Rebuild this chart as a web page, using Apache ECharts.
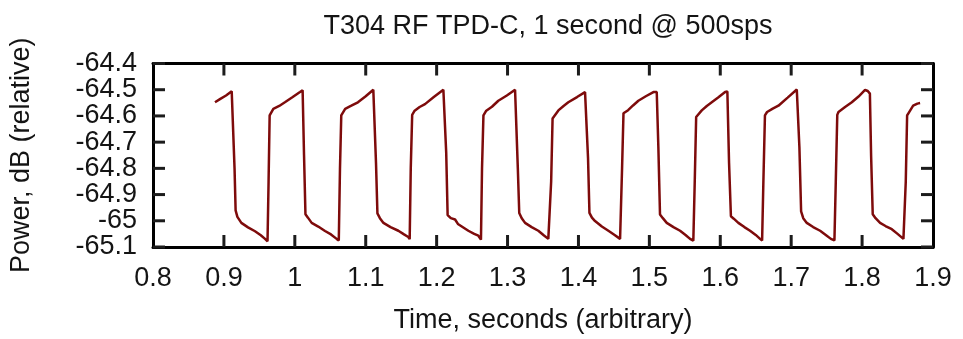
<!DOCTYPE html>
<html>
<head>
<meta charset="utf-8">
<script src="https://cdn.jsdelivr.net/npm/echarts@6/dist/echarts.min.js"></script>
<style>
html,body{margin:0;padding:0;background:#fff;}
#chart{width:963px;height:339px;}
</style>
</head>
<body>
<div id="chart"></div>
<script>
// ---- data ----
const titleText = "T304 RF TPD-C, 1 second @ 500sps";
const xName = "Time, seconds (arbitrary)";
const yName = "Power, dB (relative)";

const xTicks = [0.8, 1.9, 0.1];      // min, max, step
const yTicks = [-65.1, -64.4, 0.1];  // min, max, step
const xTickValues = [0.9, 1.0, 1.1, 1.2, 1.3, 1.4, 1.5, 1.6, 1.7, 1.8];
const yTickValues = [-65.1, -65.0, -64.9, -64.8, -64.7, -64.6, -64.5, -64.4];
const yTickLabels = ['-65.1', '-65', '-64.9', '-64.8', '-64.7', '-64.6', '-64.5', '-64.4'];

const time = [
  0.8874, 0.8950, 0.9030, 0.9110, 0.9130, 0.9150, 0.9165, 0.9190, 0.9246, 0.9340, 0.9439, 0.9520, 0.9580, 0.9615,
  0.9630, 0.9645, 0.9697, 0.9780, 0.9860, 0.9960, 1.0073, 1.0110, 1.0130, 1.0150, 1.0185, 1.0238, 1.0330, 1.0426, 1.0510, 1.0590, 1.0620,
  1.0637, 1.0655, 1.0710, 1.0790, 1.0890, 1.1000, 1.1107, 1.1125, 1.1145, 1.1165, 1.1200, 1.1250, 1.1350, 1.1460, 1.1540, 1.1600, 1.1620,
  1.1635, 1.1655, 1.1690, 1.1760, 1.1836, 1.1960, 1.2095, 1.2115, 1.2135, 1.2155, 1.2200, 1.2260, 1.2300, 1.2447, 1.2530, 1.2588, 1.2625,
  1.2640, 1.2660, 1.2700, 1.2780, 1.2870, 1.2990, 1.3106, 1.3125, 1.3145, 1.3165, 1.3200, 1.3247, 1.3340, 1.3434, 1.3510, 1.3575, 1.3600,
  1.3615, 1.3635, 1.3717, 1.3790, 1.3857, 1.3980, 1.4093, 1.4115, 1.4135, 1.4155, 1.4190, 1.4234, 1.4330, 1.4422, 1.4510, 1.4587, 1.4600,
  1.4615, 1.4635, 1.4700, 1.4770, 1.4845, 1.4950, 1.5057, 1.5104, 1.5127, 1.5150, 1.5190, 1.5245, 1.5340, 1.5433, 1.5510, 1.5574, 1.5620,
  1.5640, 1.5660, 1.5739, 1.5810, 1.5880, 1.5970, 1.6068, 1.6100, 1.6124, 1.6150, 1.6190, 1.6255, 1.6340, 1.6420, 1.6500, 1.6561, 1.6590,
  1.6608, 1.6630, 1.6660, 1.6740, 1.6820, 1.6950, 1.7079, 1.7100, 1.7116, 1.7140, 1.7170, 1.7220, 1.7310, 1.7408, 1.7502, 1.7560, 1.7610,
  1.7629, 1.7650, 1.7667, 1.7760, 1.7855, 1.7950, 1.8042, 1.8080, 1.8110, 1.8127, 1.8150, 1.8190, 1.8254, 1.8330, 1.8419, 1.8500, 1.8583, 1.8605,
  1.8616, 1.8635, 1.8653, 1.8720, 1.8780, 1.8818
];

const power = [
  -64.548, -64.535, -64.522, -64.506, -64.504, -64.800, -64.960, -64.985, -65.008, -65.025, -65.040, -65.055, -65.069, -65.078,
  -64.850, -64.598, -64.573, -64.562, -64.548, -64.530, -64.509, -64.502, -64.750, -64.975, -64.988, -65.008, -65.022, -65.039, -65.052, -65.069, -65.075,
  -64.800, -64.598, -64.573, -64.562, -64.548, -64.525, -64.500, -64.498, -64.780, -64.972, -64.990, -65.008, -65.024, -65.038, -65.052, -65.062, -65.070,
  -64.800, -64.596, -64.580, -64.566, -64.555, -64.528, -64.500, -64.498, -64.740, -64.978, -64.990, -64.995, -65.012, -65.038, -65.050, -65.057, -65.072,
  -64.800, -64.598, -64.580, -64.565, -64.542, -64.522, -64.500, -64.498, -64.800, -64.970, -64.990, -65.008, -65.024, -65.038, -65.055, -65.069, -65.072,
  -64.850, -64.610, -64.579, -64.562, -64.548, -64.528, -64.509, -64.504, -64.760, -64.970, -64.988, -65.001, -65.022, -65.038, -65.054, -65.069, -65.073,
  -64.800, -64.590, -64.578, -64.560, -64.542, -64.525, -64.509, -64.509, -64.720, -64.976, -64.990, -65.008, -65.024, -65.038, -65.054, -65.069, -65.076,
  -64.850, -64.604, -64.579, -64.562, -64.548, -64.530, -64.509, -64.507, -64.780, -64.983, -64.992, -65.008, -65.024, -65.038, -65.054, -65.069, -65.075,
  -64.850, -64.598, -64.585, -64.572, -64.561, -64.530, -64.499, -64.502, -64.720, -64.964, -64.990, -65.008, -65.024, -65.038, -65.057, -65.069, -65.075,
  -64.850, -64.596, -64.585, -64.566, -64.548, -64.526, -64.501, -64.505, -64.515, -64.750, -64.975, -64.990, -65.008, -65.020, -65.032, -65.050, -65.069, -65.075,
  -64.850, -64.598, -64.590, -64.561, -64.553, -64.551
];

// ---- chart ----
const FONT = "'Liberation Sans', Arial, Helvetica, sans-serif";
const TXT = '#141414';
const TICK_COLOR = '#1c1c1c';
const TICK_LEN = 12;
const seriesData = time.map((t, i) => [t, power[i]]);
const xTickData = xTickValues.map(v => [v, yTicks[0]]);
const yTickData = yTickValues.map(v => [xTicks[0], v]);

const chart = echarts.init(document.getElementById('chart'));

function axLine() { return {show: true, onZero: false, lineStyle: {color: '#000', width: 3}}; }
function tickRect(x, y, w, h) {
  return {type: 'rect', shape: {x: x, y: y, width: w, height: h},
          style: {fill: TICK_COLOR}, z2: 50};
}

chart.setOption({
  animation: false,
  backgroundColor: '#fff',
  title: {
    text: titleText,
    left: 543,
    top: 8,
    textAlign: 'center',
    textStyle: {fontFamily: FONT, fontSize: 27, fontWeight: 'normal', color: TXT}
  },
  grid: {left: 153, right: 30, top: 63.5, bottom: 87.5},
  xAxis: [
    {
      type: 'value', position: 'bottom',
      min: xTicks[0], max: xTicks[1], interval: xTicks[2],
      name: xName, nameLocation: 'middle', nameGap: 60,
      nameTextStyle: {fontFamily: FONT, fontSize: 27, color: TXT},
      axisLine: axLine(),
      axisTick: {show: false},
      axisLabel: {fontFamily: FONT, fontSize: 27, lineHeight: 20, color: TXT, margin: 22,
                  showMinLabel: true, showMaxLabel: true, hideOverlap: false},
      splitLine: {show: false}
    },
    {
      type: 'value', position: 'top',
      min: xTicks[0], max: xTicks[1], interval: xTicks[2],
      axisLine: axLine(), axisTick: {show: false},
      axisLabel: {show: false}, splitLine: {show: false}
    }
  ],
  yAxis: [
    {
      type: 'value', position: 'left',
      min: yTicks[0], max: yTicks[1], interval: yTicks[2],
      name: yName, nameLocation: 'middle', nameGap: 118, nameRotate: 90,
      nameTextStyle: {fontFamily: FONT, fontSize: 27, color: TXT},
      axisLine: axLine(), axisTick: {show: false},
      axisLabel: {show: false},
      splitLine: {show: false}
    },
    {
      type: 'value', position: 'right',
      min: yTicks[0], max: yTicks[1], interval: yTicks[2],
      axisLine: axLine(), axisTick: {show: false},
      axisLabel: {show: false}, splitLine: {show: false}
    }
  ],
  series: [
    {
      type: 'line',
      xAxisIndex: 0, yAxisIndex: 0,
      data: seriesData,
      showSymbol: false,
      lineStyle: {color: '#7e0b0b', width: 2.5},
      z: 3
    },
    {
      // x ticks (bottom and top, pointing inward)
      type: 'custom', xAxisIndex: 0, yAxisIndex: 0,
      data: xTickData, clip: false, silent: true, z: 10,
      encode: {x: 0, y: 1},
      renderItem: function (params, api) {
        const v = api.value(0);
        const pB = api.coord([v, yTicks[0]]);
        const pT = api.coord([v, yTicks[1]]);
        return {type: 'group', children: [
          tickRect(pB[0] - 1.5, pB[1] - TICK_LEN, 3, TICK_LEN),
          tickRect(pT[0] - 1.5, pT[1], 3, TICK_LEN)
        ]};
      }
    },
    {
      // y ticks (left and right, pointing inward) and y tick labels
      type: 'custom', xAxisIndex: 0, yAxisIndex: 0,
      data: yTickData, clip: false, silent: true, z: 10,
      encode: {x: 0, y: 1},
      renderItem: function (params, api) {
        const v = api.value(1);
        const pL = api.coord([xTicks[0], v]);
        const pR = api.coord([xTicks[1], v]);
        return {type: 'group', children: [
          tickRect(pL[0], pL[1] - 1.5, TICK_LEN, 3),
          tickRect(pR[0] - TICK_LEN, pR[1] - 1.5, TICK_LEN, 3),
          {type: 'text', x: pL[0] - 16, y: pL[1],
           style: {text: yTickLabels[params.dataIndex], fill: TXT,
                   fontSize: 27, fontFamily: FONT,
                   align: 'right', verticalAlign: 'middle',
                   textAlign: 'right', textVerticalAlign: 'middle'}}
        ]};
      }
    }
  ]
});
</script>
</body>
</html>
